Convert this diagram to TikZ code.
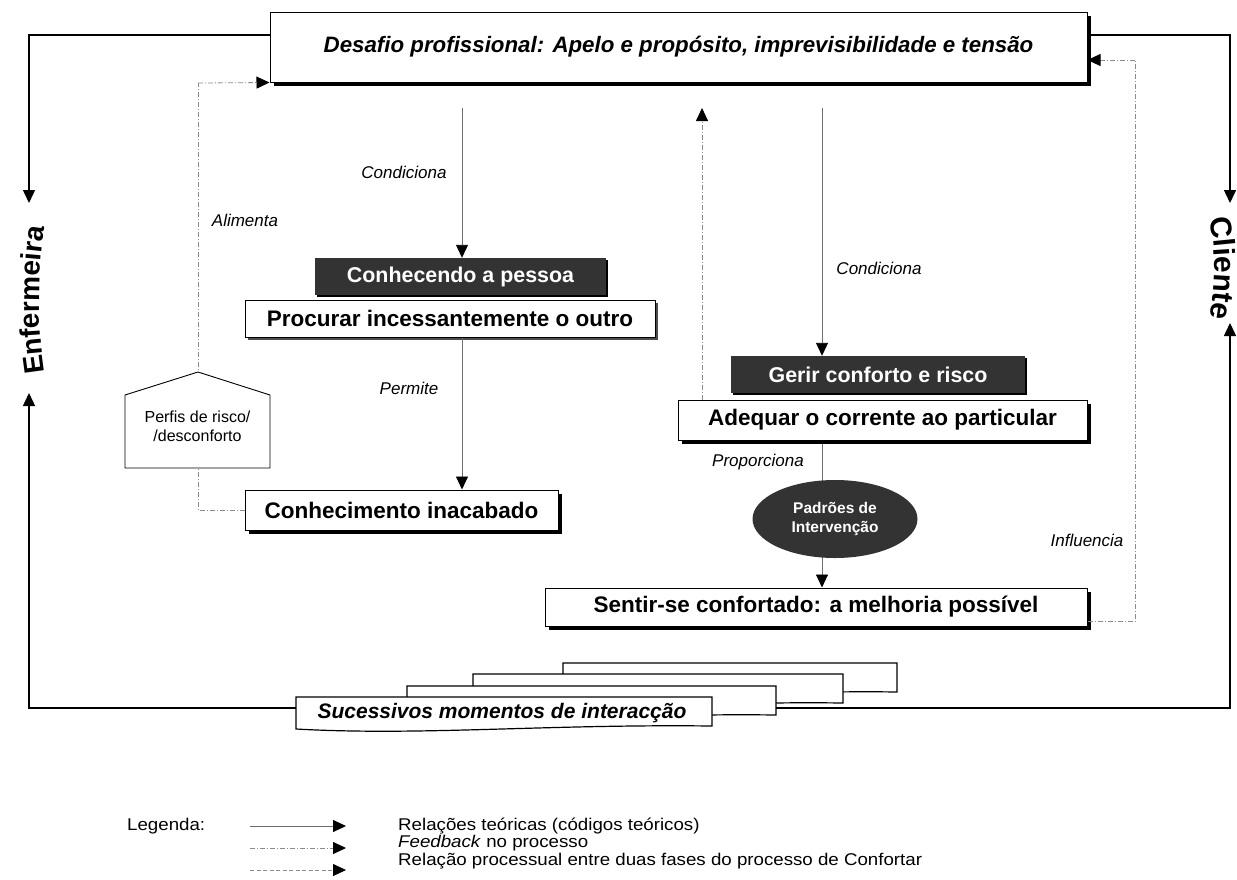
\documentclass[tikz,border=0pt]{standalone}
\usepackage{fontspec}
\setmainfont{Liberation Sans}
\newfontfamily\legendfont[FakeStretch=1.1]{Liberation Sans}
\usetikzlibrary{arrows.meta,shadows,decorations.text,calc,backgrounds,shapes.geometric}
\definecolor{boxdark}{HTML}{333333}
\definecolor{linegray}{HTML}{6E6E6E}
\definecolor{dashgray}{HTML}{8C8C8C}

\begin{document}
\begin{tikzpicture}[x=1pt,y=-1pt,
  tip/.style={-{Triangle[length=13pt,width=12pt,color=black]}},
  outer/.style={draw=black,line width=1.5pt,tip},
  rel/.style={draw=linegray,line width=0.9pt,tip},
  relplain/.style={draw=linegray,line width=0.9pt},
  fb/.style={draw=dashgray,line width=0.8pt,dash pattern=on 5pt off 2pt on 1pt off 2pt},
  fbarrow/.style={fb,tip},
  procarrow/.style={draw=dashgray,line width=0.8pt,dash pattern=on 4pt off 2.5pt,tip},
  heavyshadow/.style={drop shadow={shadow xshift=3.5pt,shadow yshift=-3.5pt,fill=black,opacity=1}},
  lightshadow/.style={drop shadow={shadow xshift=2.5pt,shadow yshift=-2.5pt,fill=black!70,opacity=1}},
  plainbox/.style={draw=black,line width=1pt,fill=white,inner sep=0pt,align=center,
                   font=\fontsize{22.5}{26}\selectfont\bfseries},
  darkbox/.style={fill=boxdark,text=white,inner sep=0pt,align=center,
                  font=\fontsize{21.4}{25}\selectfont\bfseries,
                  drop shadow={shadow xshift=2pt,shadow yshift=-2pt,fill=black,opacity=1}},
  lbl/.style={font=\fontsize{17}{20}\selectfont\itshape,inner sep=0pt},
  legtxt/.style={font=\legendfont\fontsize{17}{20}\selectfont,inner sep=0pt,anchor=west},
  stackpage/.style={draw=black,line width=1.2pt,fill=white}
]
\useasboundingbox (0,0) rectangle (1237,879);

% ---------- main boxes ----------
\node[plainbox,heavyshadow,minimum width=817,minimum height=70,
      font=\fontsize{22.3}{26}\selectfont\bfseries\itshape] (desafio) at (678.5,47)
  {Desafio profissional: Apelo e propósito, imprevisibilidade e tensão};

\node[darkbox,minimum width=291,minimum height=37] (conhecendo) at (460.5,276.5) {Conhecendo a pessoa};
\node[plainbox,lightshadow,minimum width=410,minimum height=37] (procurar) at (450,318.5) {Procurar incessantemente o outro};
\node[plainbox,heavyshadow,minimum width=313,minimum height=40] (inacabado) at (401.5,510) {Conhecimento inacabado};

\node[darkbox,minimum width=294,minimum height=37] (gerir) at (878,374.5) {Gerir conforto e risco};
\node[plainbox,heavyshadow,minimum width=409,minimum height=40] (adequar) at (882.5,420) {Adequar o corrente ao particular};
\node[ellipse,fill=boxdark,text=white,inner sep=0pt,minimum width=165,minimum height=78,align=center,
      font=\fontsize{15.5}{19}\selectfont\bfseries] (padroes) at (835,519) {Padrões de\\Intervenção};
\node[plainbox,heavyshadow,minimum width=542,minimum height=38] (sentir) at (816,607) {Sentir-se confortado: a melhoria possível};

% ---------- risk profile (pentagon) ----------
\coordinate (fbL) at (198,83);
\draw[fb] (inacabado.west) -| (fbL);
\draw[fbarrow] (fbL) -- (desafio.south west);
\draw[black,line width=0.9pt,fill=white] (125,395) -- (198,372) -- (270,395) -- (270,468) -- (125,468) -- cycle;
\node[font=\fontsize{16}{19}\selectfont,align=center,inner sep=0pt] (perfis) at (197.5,426) {Perfis de risco/\\/desconforto};

% ---------- stacked interaction moments ----------
\foreach \l/\r/\t in {563/897/663, 473/843/674, 407/776/686, 296/712/697}{
  \draw[stackpage] (\l,\t) -- (\r,\t) -- (\r,\t+29)
     .. controls ({\l+0.6*(\r-\l)},\t+27) and ({\l+0.3*(\r-\l)},\t+39) .. (\l,\t+32) -- cycle;
}
\node[font=\fontsize{21}{25}\selectfont\bfseries\itshape,inner sep=0pt] (sucessivos) at (502,713)
  {Sucessivos momentos de interacção};

% ---------- anchors for side connectors ----------
\coordinate (ytop) at (0,35);
\coordinate (enfTop) at (29,203);
\coordinate (enfBot) at (29,393);
\coordinate (cliTop) at (1230,203);
\coordinate (cliBot) at (1230,323);
\coordinate (frontL) at (296,708);
\coordinate (backR) at (776,708);
\coordinate (c1) at (462,108);
\coordinate (c2) at (822,108);
\coordinate (fbUp) at (702,108);
\coordinate (fbR) at (1135,621);
\coordinate (fbRtop) at (1135,60);

% ---------- outer loop: Enfermeira / Cliente ----------
\draw[outer] (desafio.west |- ytop) -| (enfTop);
\draw[outer] (desafio.east |- ytop) -| (cliTop);
\draw[outer] (frontL) -| (enfBot);
\draw[outer] (backR) -| (cliBot);

\path[decorate,decoration={text along path,text align=center,
      text={|\fontsize{28}{32}\selectfont\bfseries|Enfermeira}}]
  (46,380) .. controls (37,330) and (37,268) .. (46,220);
\path[decorate,decoration={text along path,text align=center,
      text={|\fontsize{30}{34}\selectfont\bfseries|Cliente}}]
  (1208,210) .. controls (1217,250) and (1217,285) .. (1208,326);

% ---------- theoretical relations ----------
\draw[rel] (c1) -- (c1 |- conhecendo.north);
\draw[rel] (procurar.south -| c1) -- (inacabado.north -| c1);
\draw[rel] (c2) -- (c2 |- gerir.north);
\begin{pgfonlayer}{background}
  \draw[relplain] (adequar.south -| c2) -- (c2 |- padroes.center);
  \draw[relplain] (c2 |- padroes.center) -- (c2 |- padroes.south);
\end{pgfonlayer}
\draw[rel] (c2 |- padroes.south) -- (c2 |- sentir.north);

% ---------- feedback ----------
\draw[fbarrow] (adequar.north -| fbUp) -- (fbUp);
\draw[fb] (sentir.east |- fbR) -- (fbR) -- (fbRtop);
\draw[fbarrow] (fbRtop) -- (desafio.east |- fbRtop);

% ---------- relation labels ----------
\node[lbl] (lcond1) at (404,172) {Condiciona};
\node[lbl] (lalim) at (245,220) {Alimenta};
\node[lbl] (lperm) at (409,388) {Permite};
\node[lbl] (lcond2) at (879,268) {Condiciona};
\node[lbl] (lprop) at (758,462) {Proporciona};
\node[lbl] (linfl) at (1087,540) {Influencia};

% ---------- legend ----------
\node[legtxt] (legenda) at (127,826) {Legenda:};
\coordinate (lg1a) at (250,826); \coordinate (lg1b) at (346,826);
\coordinate (lg2a) at (250,848); \coordinate (lg2b) at (346,848);
\coordinate (lg3a) at (250,870); \coordinate (lg3b) at (346,870);
\draw[rel] (lg1a) -- (lg1b);
\draw[fbarrow] (lg2a) -- (lg2b);
\draw[procarrow] (lg3a) -- (lg3b);
\node[legtxt] (leg1) at (398,826) {Relações teóricas (códigos teóricos)};
\node[legtxt] (leg2) at (398,843.5) {\textit{Feedback} no processo};
\node[legtxt] (leg3) at (398,861) {Relação processual entre duas fases do processo de Confortar};
\end{tikzpicture}
\end{document}
